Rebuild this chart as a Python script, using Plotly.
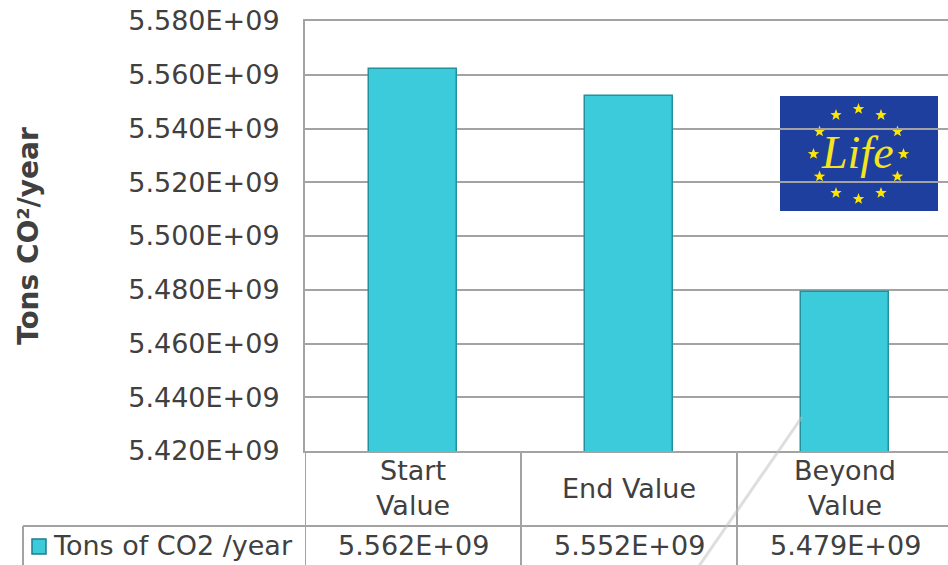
import math
import plotly.graph_objects as go

# ---- data ----
categories = ["Start Value", "End Value", "Beyond Value"]
category_labels = ["Start<br>Value", "End Value", "Beyond<br>Value"]
values = [5.562e9, 5.552e9, 5.479e9]
series_name = "Tons of CO2 /year"
y_ticks = [5.42e9, 5.44e9, 5.46e9, 5.48e9, 5.50e9, 5.52e9, 5.54e9, 5.56e9, 5.58e9]
y_title = "Tons CO²/year"

def sci(v):
    return f"{v/1e9:.3f}E+09"

TXT = "#404040"
GRID = "#A3A3A3"
FONT = "Verdana, DejaVu Sans, sans-serif"
FS = 27

# page body margin is removed (post_script), so the figure starts at (0, 0)
OFF = 0
W, H = 948 - OFF, 565 - OFF
# screen-pixel geometry of the plot area
SL, ST, SB = 305, 21, 451
L, T = SL - OFF, ST - OFF
B = (H + OFF) - SB
R = 0
PW, PH = W - L - R, H - T - B
COLW = 216.0

def px(X):
    return (X - SL) / PW

def py(Y):
    return (SB - Y) / PH

fig = go.Figure()
fig.add_trace(go.Bar(
    x=categories, y=values, name=series_name,
    width=88 / COLW,
    marker=dict(color="#3CCBDB", line=dict(color="#23909E", width=1.5)),
    showlegend=False,
))

shapes = []
# logo background (below gridlines)
shapes.append(dict(type="rect", xref="paper", yref="paper", layer="below",
                   x0=px(780), x1=px(938), y0=py(211), y1=py(96),
                   fillcolor="#1E3F9D", line=dict(width=0)))
# stars
cx, cy, rr = 858.5, 154.0, 45.0
for k in range(12):
    a = math.radians(90 - 30 * k)
    sx, sy = cx + rr * math.cos(a), cy - rr * math.sin(a)
    pts = []
    for j in range(10):
        r_ = 6.0 if j % 2 == 0 else 2.5
        b = math.radians(90 + 36 * j)
        pts.append((px(sx + r_ * math.cos(b)), py(sy - r_ * math.sin(b))))
    path = "M " + " L ".join(f"{p[0]:.5f},{p[1]:.5f}" for p in pts) + " Z"
    shapes.append(dict(type="path", xref="paper", yref="paper", layer="below",
                       path=path, fillcolor="#FFE600", line=dict(width=0)))

line = dict(color=GRID, width=2)
# table lines
for xb in [-0.5, 0.5, 1.5]:
    shapes.append(dict(type="line", xref="x", yref="paper", x0=xb, x1=xb,
                       y0=0, y1=py(570), line=line))
shapes.append(dict(type="line", xref="paper", yref="paper", x0=px(23), x1=1,
                   y0=py(526), y1=py(526), line=line))
shapes.append(dict(type="line", xref="paper", yref="paper", x0=px(23), x1=px(23),
                   y0=py(526), y1=py(570), line=line))
# legend key
shapes.append(dict(type="rect", xref="paper", yref="paper",
                   x0=px(32), x1=px(46), y0=py(554), y1=py(539),
                   fillcolor="#3CCBDB", line=dict(color="#1E7F8C", width=1.5)))
# glossy streak
shapes.append(dict(type="line", xref="paper", yref="paper",
                   x0=px(802), y0=py(417), x1=px(699), y1=py(566),
                   line=dict(color="rgba(190,190,190,0.5)", width=3)))

annotations = []
# y title
annotations.append(dict(xref="paper", yref="paper", x=px(28), y=py(236),
                        text=f"<b>{y_title}</b>", textangle=-90, showarrow=False,
                        font=dict(family=FONT, size=28, color=TXT),
                        xanchor="center", yanchor="middle"))
# category labels and table values
for c, lab, v in zip(categories, category_labels, values):
    annotations.append(dict(xref="x", yref="paper", x=c, y=py(488), text=lab,
                            showarrow=False, font=dict(family=FONT, size=FS, color=TXT),
                            xanchor="center", yanchor="middle"))
    annotations.append(dict(xref="x", yref="paper", x=c, y=py(545), text=sci(v),
                            showarrow=False, font=dict(family=FONT, size=FS, color=TXT),
                            xanchor="center", yanchor="middle"))
# legend label
annotations.append(dict(xref="paper", yref="paper", x=px(51), y=py(545), text=series_name,
                        showarrow=False, font=dict(family=FONT, size=FS, color=TXT),
                        xanchor="left", yanchor="middle"))
# logo text
annotations.append(dict(xref="paper", yref="paper", x=px(857), y=py(152), text="Life",
                        showarrow=False,
                        font=dict(family="Liberation Serif, serif", size=46, color="#F5E51E",
                                  style="italic"),
                        xanchor="center", yanchor="middle"))

fig.update_layout(
    width=W, height=H,
    margin=dict(l=L, r=R, t=T, b=B, pad=0, autoexpand=False),
    paper_bgcolor="white", plot_bgcolor="white",
    bargap=0,
    shapes=shapes, annotations=annotations,
    xaxis=dict(range=[-0.5, -0.5 + PW / COLW], showticklabels=False, showgrid=False,
               showline=True, linecolor=GRID, linewidth=2, mirror=True,
               ticks="", zeroline=False),
    yaxis=dict(range=[y_ticks[0], y_ticks[-1]], tickvals=y_ticks,
               ticktext=[sci(v) for v in y_ticks],
               showgrid=True, gridcolor=GRID, gridwidth=2,
               showline=True, linecolor=GRID, linewidth=2,
               ticks="", ticklabelstandoff=18, ticklabeloverflow="allow",
               zeroline=False,
               tickfont=dict(family=FONT, size=FS, color=TXT)),
    showlegend=False,
)

fig.write_html("out.html",
               config={"displayModeBar": False},
               post_script="document.body.style.margin='0px';document.body.style.overflow='hidden';")
